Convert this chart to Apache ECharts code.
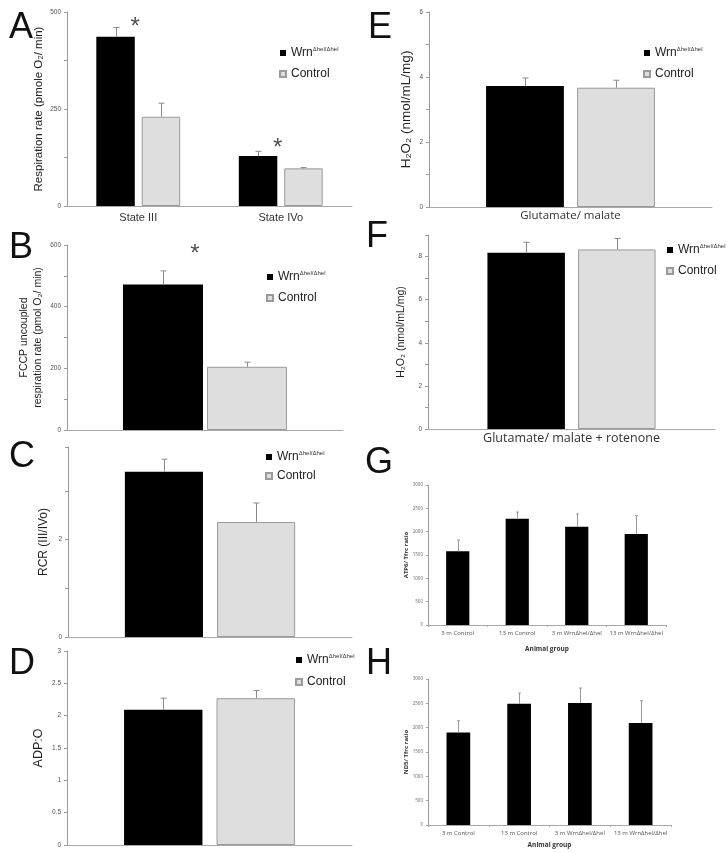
<!DOCTYPE html>
<html>
<head>
<meta charset="utf-8">
<script src="https://cdn.jsdelivr.net/npm/echarts@6/dist/echarts.min.js"></script>
<style>
html, body { margin: 0; padding: 0; background: #fff; }
#chart { width: 728px; height: 853px; }
</style>
</head>
<body>
<div id="chart"></div>
<script>
// panel A
const catsA = ["State III", "State IVo"];
const wrnA = [436, 129];
const wrnErrA = [24, 12];
const ctrlA = [230, 97];
const ctrlErrA = [35, 2];
const starsA = [[0, 461], [1, 149]];
// panel B
const wrnB = [472];
const wrnErrB = [44];
const ctrlB = [205];
const ctrlErrB = [15];
const starsB = [[0, 568]];
// panel C
const wrnC = [3.39];
const wrnErrC = [0.26];
const ctrlC = [2.36];
const ctrlErrC = [0.39];
// panel D
const wrnD = [2.09];
const wrnErrD = [0.18];
const ctrlD = [2.27];
const ctrlErrD = [0.12];
// panel E
const catsE = ["Glutamate/ malate"];
const wrnE = [3.72];
const wrnErrE = [0.25];
const ctrlE = [3.67];
const ctrlErrE = [0.23];
// panel F
const catsF = ["Glutamate/ malate + rotenone"];
const wrnF = [8.18];
const wrnErrF = [0.48];
const ctrlF = [8.33];
const ctrlErrF = [0.51];
// panels G, H
const groups = ["3 m Control", "13 m Control", "3 m WrnΔhel/Δhel", "13 m WrnΔhel/Δhel"];
const atp6 = [1579, 2278, 2107, 1950];
const atp6Err = [242, 143, 272, 393];
const nd5 = [1901, 2491, 2506, 2094];
const nd5Err = [240, 221, 309, 459];

const SANS = '"Liberation Sans", Arial, sans-serif';
const CAL = '"Open Sans", sans-serif';

const chart = echarts.init(document.getElementById("chart"));

function errSeries(gi, vals, errs, side, w, g, cap, color) {
  return {
    type: "custom", xAxisIndex: gi, yAxisIndex: gi, z: 5, silent: true,
    data: vals.map((v, i) => [i, v, v + errs[i]]),
    encode: { x: 0, y: [1, 2] },
    renderItem: (params, api) => {
      const base = api.coord([api.value(0), api.value(1)]);
      const top = api.coord([api.value(0), api.value(2)]);
      const band = api.size([1, 0])[0];
      const x = Math.round(base[0] + side * band * w * (1 + g) / 2) + 0.5;
      const style = { stroke: color, lineWidth: 1 };
      return {
        type: "group",
        children: [
          { type: "line", shape: { x1: x, y1: base[1], x2: x, y2: top[1] }, style },
          { type: "line", shape: { x1: x - cap, y1: top[1], x2: x + cap, y2: top[1] }, style }
        ]
      };
    }
  };
}

function pair(gi, wrn, wrnErr, ctrl, ctrlErr, w, g, cap) {
  const bw = w * 100 + "%", gap = g * 100 + "%";
  return [
    { name: "Wrn", type: "bar", xAxisIndex: gi, yAxisIndex: gi, data: wrn, barWidth: bw, barGap: gap,
      itemStyle: { color: "#000" } },
    { name: "Control", type: "bar", xAxisIndex: gi, yAxisIndex: gi, data: ctrl, barWidth: bw, barGap: gap,
      itemStyle: { color: "#dedede", borderColor: "#9a9a9a", borderWidth: 1 } },
    errSeries(gi, wrn, wrnErr, -1, w, g, cap, "#8a8a8a"),
    errSeries(gi, ctrl, ctrlErr, 1, w, g, cap, "#8a8a8a")
  ];
}

function stars(gi, pts, dx) {
  return {
    type: "scatter", xAxisIndex: gi, yAxisIndex: gi, data: pts, symbolSize: 1, silent: true, z: 6,
    itemStyle: { color: "rgba(0,0,0,0)" },
    label: { show: true, formatter: "*", position: "inside", offset: [dx, 0], fontSize: 24, fontFamily: SANS, color: "#222" }
  };
}

function yAxis(gi, max, interval, show, name, nameSize, nameGap, extra) {
  return Object.assign({
    type: "value", gridIndex: gi, min: 0, max, interval,
    splitLine: { show: false },
    axisLine: { show: true, lineStyle: { color: "#9a9a9a" } },
    axisTick: { show: true, length: 3, lineStyle: { color: "#9a9a9a" } },
    axisLabel: { fontSize: 6.5, color: "#555", fontFamily: SANS, margin: 6,
      formatter: (v) => (show(v) ? String(v) : "") },
    name, nameLocation: "middle", nameRotate: 90, nameGap,
    nameTextStyle: { fontSize: nameSize, color: "#222", fontFamily: SANS, lineHeight: 14 }
  }, extra || {});
}

function xCat(gi, data, label) {
  return {
    type: "category", gridIndex: gi, data,
    axisLine: { lineStyle: { color: "#a8a8a8" } },
    axisTick: { show: false },
    axisLabel: Object.assign({ show: !!label, color: "#333", interval: 0 }, label || {})
  };
}

function legendAt(left, top, gap) {
  return {
    left, top, orient: "vertical", itemWidth: 6, itemHeight: 6, itemGap: gap, selectedMode: false,
    icon: "rect",
    data: ["Wrn", "Control"],
    formatter: (n) => (n === "Wrn" ? "{a|Wrn}{s|Δhel/Δhel}" : "{a|Control}"),
    textStyle: {
      rich: {
        a: { fontSize: 12, fontFamily: SANS, color: "#222", lineHeight: 14 },
        s: { fontSize: 6, fontFamily: SANS, color: "#333", verticalAlign: "top", lineHeight: 14 }
      }
    }
  };
}

function letter(ch, x, y, size) {
  return { type: "text", left: x, top: y, style: { text: ch, fontSize: size || 36, fontFamily: SANS, fill: "#111" } };
}

const small = { fontSize: 6, color: "#555", fontFamily: CAL };
const ratioAxis = {
  axisLabel: { fontSize: 4.5, color: "#666", fontFamily: CAL, margin: 5, formatter: (v) => String(v) },
  axisTick: { show: true, length: 2, lineStyle: { color: "#aaa" } },
  nameTextStyle: { fontSize: 6, fontWeight: "bold", color: "#333", fontFamily: CAL }
};

const option = {
  animation: false,
  backgroundColor: "#fff",
  grid: [
    { left: 67, top: 12, width: 285, height: 194 },
    { left: 67, top: 245, width: 276, height: 185 },
    { left: 68, top: 447, width: 284, height: 190 },
    { left: 67, top: 651, width: 285, height: 194 },
    { left: 429, top: 12, width: 283, height: 195 },
    { left: 428, top: 235, width: 287, height: 194 },
    { left: 428, top: 485, width: 238, height: 140 },
    { left: 428, top: 679, width: 243, height: 146 }
  ],
  xAxis: [
    xCat(0, catsA, { fontSize: 11, fontFamily: SANS, margin: 6 }),
    xCat(1, [""]),
    xCat(2, [""]),
    xCat(3, [""]),
    xCat(4, catsE, { fontSize: 11.5, fontFamily: CAL, margin: 3 }),
    xCat(5, catsF, { fontSize: 12.5, fontFamily: CAL, margin: 3 }),
    Object.assign(xCat(6, groups, Object.assign({ margin: 5 }, small)), {
      axisTick: { show: true, length: 2, lineStyle: { color: "#aaa" } },
      name: "Animal group", nameLocation: "middle", nameGap: 21,
      nameTextStyle: { fontSize: 6.5, fontWeight: "bold", color: "#333", fontFamily: CAL }
    }),
    Object.assign(xCat(7, groups, Object.assign({ margin: 5 }, small)), {
      axisTick: { show: true, length: 2, lineStyle: { color: "#aaa" } },
      name: "Animal group", nameLocation: "middle", nameGap: 17,
      nameTextStyle: { fontSize: 6.5, fontWeight: "bold", color: "#333", fontFamily: CAL }
    })
  ],
  yAxis: [
    yAxis(0, 500, 125, (v) => v % 250 === 0, "Respiration rate (pmole O₂/ min)", 11.5, 15),
    yAxis(1, 600, 100, (v) => v % 200 === 0, "FCCP uncoupled\nrespiration rate (pmol O₂/ min)", 10.5, 22),
    yAxis(2, 3.9, 1, (v) => v === 0 || v === 2, "RCR (III/IVo)", 12, 17),
    yAxis(3, 3, 0.5, () => true, "ADP:O", 12.5, 21),
    yAxis(4, 6, 1, (v) => v % 2 === 0, "H₂O₂ (nmol/mL/mg)", 13.5, 16),
    yAxis(5, 9, 1, (v) => v % 2 === 0 && v < 9, "H₂O₂ (nmol/mL/mg)", 10.5, 20),
    yAxis(6, 3000, 500, () => true, "ATP6/ Tfrc ratio", 6, 14, ratioAxis),
    yAxis(7, 3000, 500, () => true, "ND5/ Tfrc ratio", 6, 14, ratioAxis)
  ],
  legend: [
    legendAt(274, 41, 9),
    legendAt(261, 265, 9),
    legendAt(260, 445, 7),
    legendAt(290, 648, 10),
    legendAt(638, 41, 9),
    legendAt(661, 238, 9)
  ],
  graphic: [
    letter("A", 9, 10),
    letter("B", 9, 230),
    letter("C", 9, 439),
    letter("D", 9, 646),
    letter("E", 368, 10),
    letter("F", 366, 219),
    letter("G", 365, 445),
    letter("H", 366, 646)
  ],
  series: [
    ...pair(0, wrnA, wrnErrA, ctrlA, ctrlErrA, 0.27, 0.18, 3),
    stars(0, starsA, -3),
    ...pair(1, wrnB, wrnErrB, ctrlB, ctrlErrB, 0.29, 0.05, 3),
    stars(1, starsB, -10),
    ...pair(2, wrnC, wrnErrC, ctrlC, ctrlErrC, 0.275, 0.18, 3),
    ...pair(3, wrnD, wrnErrD, ctrlD, ctrlErrD, 0.275, 0.18, 3),
    ...pair(4, wrnE, wrnErrE, ctrlE, ctrlErrE, 0.275, 0.17, 3),
    ...pair(5, wrnF, wrnErrF, ctrlF, ctrlErrF, 0.27, 0.17, 3),
    { name: "ATP6", type: "bar", xAxisIndex: 6, yAxisIndex: 6, data: atp6, barWidth: "39%", itemStyle: { color: "#000" } },
    errSeries(6, atp6, atp6Err, 0, 0, 0, 1.5, "#999"),
    { name: "ND5", type: "bar", xAxisIndex: 7, yAxisIndex: 7, data: nd5, barWidth: "39%", itemStyle: { color: "#000" } },
    errSeries(7, nd5, nd5Err, 0, 0, 0, 1.5, "#999")
  ]
};

chart.setOption(option);
window.addEventListener("resize", () => chart.resize());
</script>
</body>
</html>
